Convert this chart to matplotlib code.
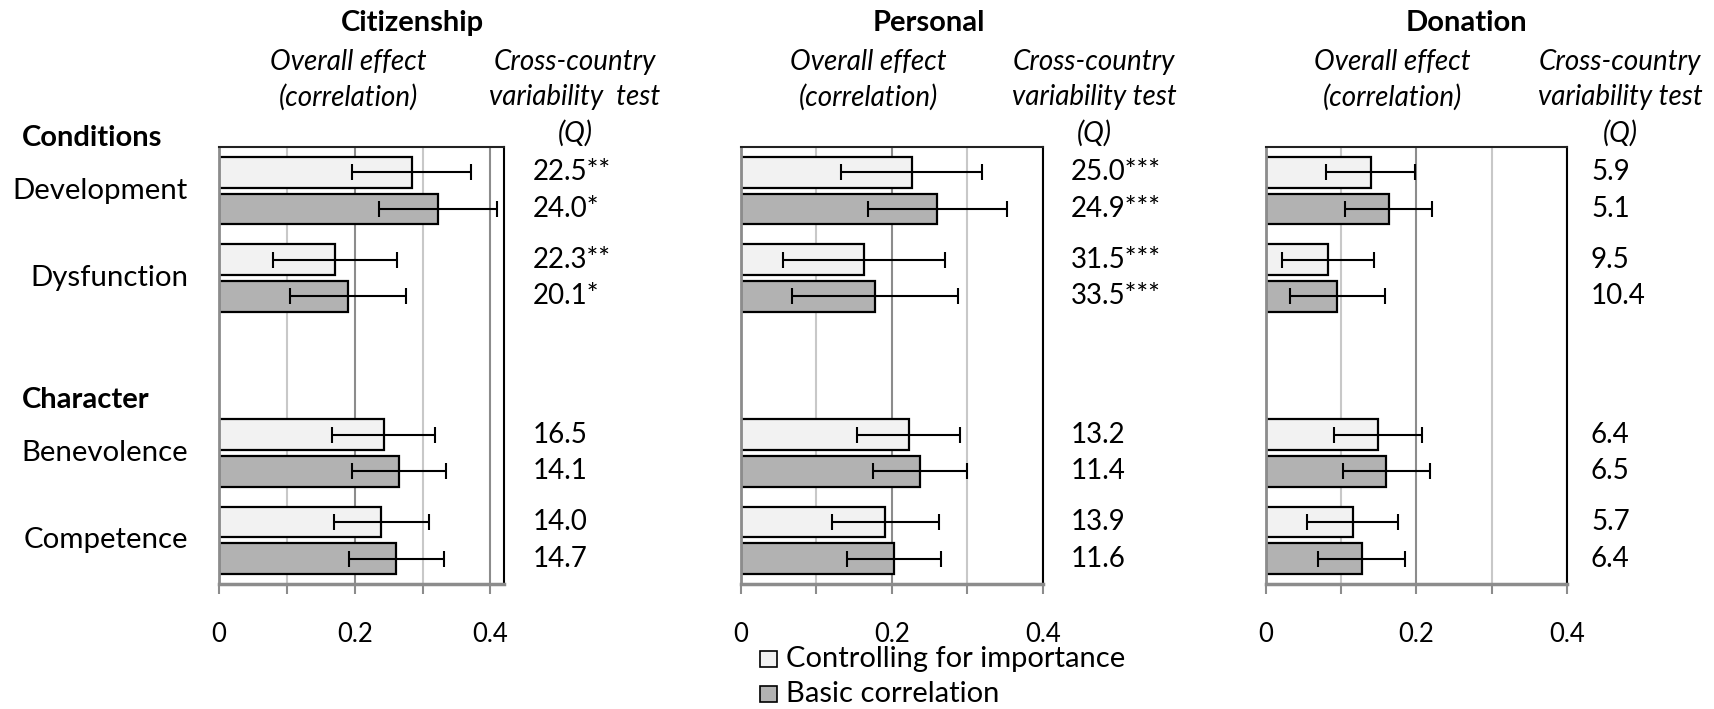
import matplotlib
matplotlib.use("Agg")
import matplotlib.pyplot as plt
from matplotlib.patches import Rectangle

plt.rcParams["font.family"] = ["Lato", "DejaVu Sans"]

categories = ["Development", "Dysfunction", "Benevolence", "Competence"]
cat_pos = [0, 1, 3, 4]
groups = ["Conditions", "Character"]
group_pos = [-0.6, 2.4]
panels = ["Citizenship", "Personal", "Donation"]
series = ["Controlling for importance", "Basic correlation"]

# overall effect (correlation), one list per panel
ctrl_vals = [
    [0.284, 0.171, 0.243, 0.239],
    [0.226, 0.163, 0.222, 0.191],
    [0.139, 0.082, 0.149, 0.115],
]
ctrl_err = [
    [0.088, 0.091, 0.076, 0.070],
    [0.093, 0.107, 0.068, 0.071],
    [0.059, 0.061, 0.058, 0.060],
]
basic_vals = [
    [0.323, 0.190, 0.265, 0.261],
    [0.260, 0.178, 0.237, 0.203],
    [0.163, 0.095, 0.160, 0.127],
]
basic_err = [
    [0.087, 0.086, 0.069, 0.070],
    [0.092, 0.110, 0.062, 0.062],
    [0.058, 0.063, 0.058, 0.058],
]

# cross-country variability test (Q)
ctrl_q = [
    ["22.5**", "22.3**", "16.5", "14.0"],
    ["25.0***", "31.5***", "13.2", "13.9"],
    ["5.9", "9.5", "6.4", "5.7"],
]
basic_q = [
    ["24.0*", "20.1*", "14.1", "14.7"],
    ["24.9***", "33.5***", "11.4", "11.6"],
    ["5.1", "10.4", "6.5", "6.4"],
]
effect_head = ["Overall effect", "(correlation)"]
q_head = [["Cross-country", "variability  test", "(Q)"],
          ["Cross-country", "variability test", "(Q)"],
          ["Cross-country", "variability test", "(Q)"]]

W, H = 1715, 709
fig = plt.figure(figsize=(W / 100, H / 100), dpi=100)

# pixel boxes of the three plot areas (left, right) and x limits
boxes = [(219, 504, 0.42), (741, 1043, 0.40), (1266, 1567, 0.40)]
top, bottom = 147, 584
q_x = [533, 1071, 1591]
effect_x = [348, 868, 1392]
cross_x = [575, 1094, 1620]
title_x = [412, 929, 1466]
head_y = [62, 97, 133]

light = "#f2f2f2"
dark = "#b2b2b2"
off = 0.21
bh = 0.35

for i, (l, r, xmax) in enumerate(boxes):
    ax = fig.add_axes([l / W, 1 - bottom / H, (r - l) / W, (bottom - top) / H])
    ax.set_xlim(0, xmax)
    ax.set_ylim(4.5, -0.5)

    for x in [0.1, 0.3]:
        ax.axvline(x, color="#c8c8c8", lw=1.5, zorder=0)
    for x in [0.2, 0.4]:
        ax.axvline(x, color="#8c8c8c", lw=1.5, zorder=0)

    y1 = [p - off for p in cat_pos]
    y2 = [p + off for p in cat_pos]
    ax.barh(y1, ctrl_vals[i], height=bh, color=light, edgecolor="black", lw=1.6, zorder=2)
    ax.barh(y2, basic_vals[i], height=bh, color=dark, edgecolor="black", lw=1.6, zorder=2)
    ax.errorbar(ctrl_vals[i], y1, xerr=ctrl_err[i], fmt="none", ecolor="black",
                elinewidth=1.5, capsize=6, capthick=1.5, zorder=3)
    ax.errorbar(basic_vals[i], y2, xerr=basic_err[i], fmt="none", ecolor="black",
                elinewidth=1.5, capsize=6, capthick=1.5, zorder=3)

    ax.set_yticks([])
    ax.set_xticks([0, 0.2, 0.4])
    ax.set_xticklabels(["0", "0.2", "0.4"])
    ax.set_xticks([0.1, 0.3], minor=True)
    ax.tick_params(axis="x", which="both", length=7, width=1.5, color="#8c8c8c",
                   labelsize=18.5, pad=20)
    ax.spines["left"].set_color("#8c8c8c")
    ax.spines["left"].set_linewidth(2)
    ax.spines["bottom"].set_color("#8c8c8c")
    ax.spines["bottom"].set_linewidth(2.5)
    ax.spines["top"].set_color("#222222")
    ax.spines["top"].set_linewidth(1.5)
    ax.spines["right"].set_color("black")
    ax.spines["right"].set_linewidth(1.5)

    qx = (q_x[i] - l) / (r - l)
    tr = ax.get_yaxis_transform()
    for y, s in zip(y1, ctrl_q[i]):
        ax.text(qx, y, s, transform=tr, ha="left", va="center", fontsize=20)
    for y, s in zip(y2, basic_q[i]):
        ax.text(qx, y, s, transform=tr, ha="left", va="center", fontsize=20)

    if i == 0:
        for y, s in zip(cat_pos, categories):
            ax.text((188 - l) / (r - l), y, s, transform=tr, ha="right",
                    va="center", fontsize=21.2)
        for y, s in zip(group_pos, groups):
            ax.text((22 - l) / (r - l), y, s, transform=tr, ha="left",
                    va="center", fontsize=21, fontweight="bold")

    fig.text(title_x[i] / W, 1 - 23 / H, panels[i], ha="center", va="center",
             fontsize=21, fontweight="bold")
    for s, y in zip(effect_head, head_y):
        fig.text(effect_x[i] / W, 1 - y / H, s, ha="center", va="center",
                 fontsize=20, style="italic")
    for s, y in zip(q_head[i], head_y):
        fig.text(cross_x[i] / W, 1 - y / H, s, ha="center", va="center",
                 fontsize=20, style="italic")

# legend drawn as two patches with labels
for k, (lab, col) in enumerate(zip(series, [light, dark])):
    yc = [659, 694][k]
    fig.patches.append(Rectangle((760 / W, 1 - (yc + 8) / H), 17 / W, 16 / H,
                                 transform=fig.transFigure, facecolor=col,
                                 edgecolor="black", lw=1.2))
    fig.text(786 / W, 1 - yc / H, lab, ha="left", va="center", fontsize=21)

fig.savefig("out.png", dpi=100)
